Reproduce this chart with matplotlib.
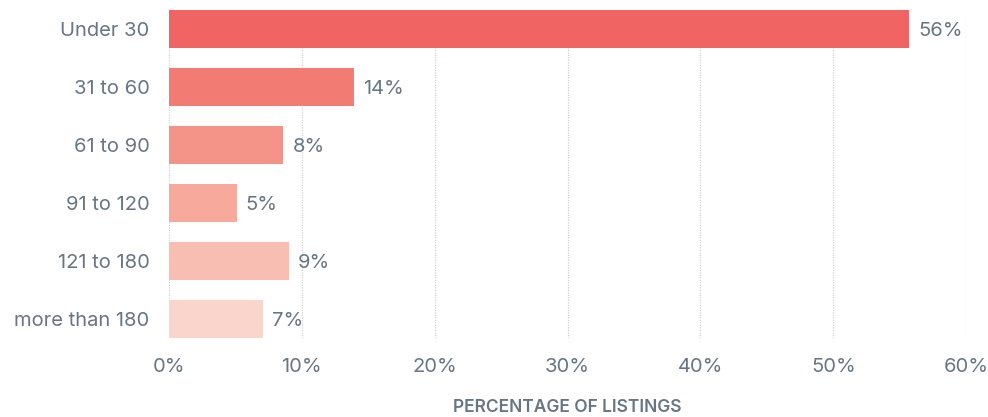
import matplotlib
matplotlib.use("Agg")
from matplotlib import pyplot as plt
from matplotlib.ticker import FuncFormatter

categories = ["Under 30", "31 to 60", "61 to 90", "91 to 120", "121 to 180", "more than 180"]
values = [55.7, 13.9, 8.6, 5.1, 9.0, 7.1]
labels = ["56%", "14%", "8%", "5%", "9%", "7%"]
colors = ["#F06464", "#F27C73", "#F49488", "#F7AA9C", "#F9BEB2", "#FAD5CC"]
x_ticks = [0, 10, 20, 30, 40, 50, 60]

text_color = "#677684"
plt.rcParams["font.family"] = ["Inter", "DejaVu Sans"]

fig = plt.figure(figsize=(9.88, 4.17), dpi=100)
ax = fig.add_axes([0.171, 0.189, 0.807, 0.787])

y = list(range(len(categories)))
ax.barh(y, values, height=0.655, color=colors, zorder=2)

# value labels just past the bar ends
for yi, v, lab in zip(y, values, labels):
    ax.annotate(lab, (v, yi), xytext=(6.5, -1.5), textcoords="offset points",
                va="center", ha="left", fontsize=14.5, color=text_color)

ax.set_ylim(len(categories) - 1 + 0.33, -0.33)
ax.set_xlim(0, 60)
ax.set_xticks(x_ticks)
ax.xaxis.set_major_formatter(FuncFormatter(lambda v, p: f"{v:.0f}%"))
ax.set_yticks(y)
ax.set_yticklabels(categories)

ax.grid(axis="x", color="#D0D0D0", linestyle=(0, (1, 1)), linewidth=0.9, zorder=0)
for s in ax.spines.values():
    s.set_visible(False)
ax.tick_params(axis="both", length=0, labelsize=14.5, labelcolor=text_color)
ax.tick_params(axis="x", pad=14)
ax.tick_params(axis="y", pad=14)

ax.set_xlabel("PERCENTAGE OF LISTINGS", fontsize=12.5, color=text_color,
              fontweight="semibold", labelpad=17)

fig.savefig("out.png", dpi=100)
